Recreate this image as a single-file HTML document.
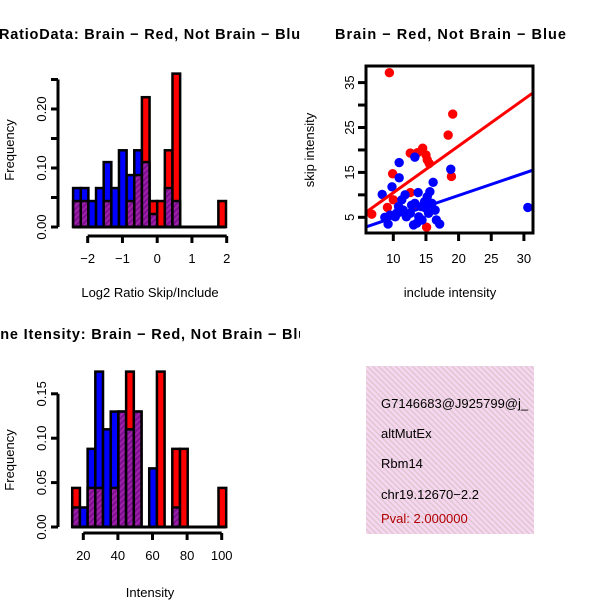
<!DOCTYPE html>
<html><head><meta charset="utf-8"><style>
html,body{margin:0;padding:0;background:#fff;}
svg{display:block;font-family:"Liberation Sans",Arial,sans-serif;}
</style></head><body>
<svg id="c" width="600" height="600" viewBox="0 0 600 600" xmlns="http://www.w3.org/2000/svg">
<defs>
<clipPath id="clipTL"><rect x="0" y="0" width="300" height="300"/></clipPath>
<clipPath id="clipBL"><rect x="0" y="300" width="300" height="300"/></clipPath>
<clipPath id="clipBR"><rect x="366" y="366" width="168" height="168"/></clipPath>
<pattern id="hatchP" width="4" height="4" patternUnits="userSpaceOnUse" patternTransform="rotate(45)">
<rect width="4" height="4" fill="#a020a8"/><rect width="2" height="4" fill="#7a1090"/></pattern>
<pattern id="pinkP" width="4" height="4" patternUnits="userSpaceOnUse" patternTransform="rotate(-45)">
<rect width="4" height="4" fill="#f6d6f0"/><rect width="1.3" height="4" fill="#dcc6cc"/></pattern>
</defs>
<g id="tl" clip-path="url(#clipTL)"></g>
<g id="tr"></g>
<g id="bl" clip-path="url(#clipBL)"></g>
<g id="br">
<rect x="366" y="366" width="168" height="168" fill="url(#pinkP)"/>
<g clip-path="url(#clipBR)" font-size="13">
<text x="381" y="408">G7146683@J925799@j_</text>
<text x="381" y="438">altMutEx</text>
<text x="381" y="468">Rbm14</text>
<text x="381" y="499">chr19.12670−2.2</text>
<text x="381" y="523" fill="#b00000">Pval: 2.000000</text>
</g></g>
</svg>
<script>
// ---- data: ratio histogram ----
const ratioBinStart = -2.42;
const ratioBinWidth = 0.22;
const ratioRed  = [0.044,0.044,0,0,0.044,0,0,0.044,0.088,0.22,0.044,0.044,0.13,0.26,0,0,0,0,0,0.044];
const ratioBlue = [0.066,0.066,0.044,0.066,0.11,0.066,0.13,0.088,0.13,0.11,0.022,0,0.066,0.044,0,0,0,0,0,0];
const ratioXTicks = [-2,-1,0,1,2];
const ratioYTicks = [0,0.05,0.10,0.15,0.20,0.25];
const ratioYLabels = ["0.00","","0.10","","0.20",""];
// ---- data: intensity histogram ----
const intBinStart = 13.6;
const intBinWidth = 4.45;
const intRed  = [0.044,0,0.044,0.044,0,0.044,0.13,0.175,0.13,0,0,0.175,0,0.088,0.088,0,0,0,0,0.044];
const intBlue = [0.022,0.022,0.088,0.175,0.11,0.13,0.13,0.11,0.13,0,0.066,0,0,0.022,0,0,0,0,0,0];
const intXTicks = [20,40,60,80,100];
const intYTicks = [0,0.05,0.10,0.15];
const intYLabels = ["0.00","0.05","0.10","0.15"];
// ---- data: scatter ----
const redX = [9.4,6.7,19.1,18.4,12.6,13.7,14.5,15.0,15.2,15.5,9.9,18.9,12.6,10.0,9.1,13.1,15.1];
const redY = [37.2,5.7,28.0,23.3,19.3,19.4,20.4,18.9,17.8,17.0,14.7,14.1,10.5,8.9,7.2,7.4,2.8];
const blueX = [30.6,10.9,13.3,10.9,16.1,18.8,9.8,8.3,8.7,9.2,10.3,10.8,11.3,11.8,12.0,12.8,13.3,13.6,13.8,14.3,14.8,15.2,15.4,15.9,16.4,16.6,17.1,9.5,10.5,12.6,13.9,14.4,13.1,11.5,15.0,15.6];
const blueY = [7.2,17.2,18.4,13.8,12.8,15.7,11.8,10.1,5.0,3.5,5.1,7.4,8.9,10.0,5.1,7.7,8.1,3.7,10.5,7.4,8.5,9.6,5.9,8.1,6.6,4.4,3.5,5.5,5.9,5.9,5.1,4.4,3.3,6.6,7.0,10.7];
const fitRed = [0.08,1.04];   // intercept, slope
const fitBlue = [-0.03,0.495];
const scXTicks = [10,15,20,25,30];
const scYTicks = [5,10,15,20,25,30,35];
const scYLabels = ["5","","15","","25","","35"];

const NS="http://www.w3.org/2000/svg";
function mk(parent,tag,attrs,text){const e=document.createElementNS(NS,tag);for(const k in attrs)e.setAttribute(k,attrs[k]);if(text!==undefined)e.textContent=text;parent.appendChild(e);return e;}

function histogram(g,o){
  const sx=v=>o.x0+(v-o.v0)*o.kx, sy=v=>o.y0-v*o.ky;
  for(let i=0;i<o.red.length;i++){
    const a=o.binStart+i*o.binW, b=a+o.binW;
    const r=o.red[i], bl=o.blue[i], mx=Math.max(r,bl), mn=Math.min(r,bl);
    const x1=sx(a), w=sx(b)-x1;
    if(mx>0){
      const el=mk(g,'rect',{x:x1,y:sy(mx),width:w,height:sy(0)-sy(mx),fill:r>=bl?'#ff0000':'#0000ff',stroke:'#000','stroke-width':2.5});
      
      
    }
    if(mn>0){
      const el=mk(g,'rect',{x:x1,y:sy(mn),width:w,height:sy(0)-sy(mn),fill:'url(#hatchP)',stroke:'#000','stroke-width':2.5});
      
      
    }
  }
  const bl=mk(g,'line',{x1:sx(o.binStart),x2:sx(o.binStart+o.red.length*o.binW),y1:sy(0),y2:sy(0),stroke:'#000','stroke-width':3});
  
  
  const xa=mk(g,'g',{});
  
  
  mk(xa,'line',{x1:sx(o.xt[0]),x2:sx(o.xt[o.xt.length-1]),y1:o.xAxisY,y2:o.xAxisY,stroke:'#000','stroke-width':3});
  o.xt.forEach(t=>{mk(xa,'line',{x1:sx(t),x2:sx(t),y1:o.xAxisY,y2:o.xAxisY+7,stroke:'#000','stroke-width':3});
    const tx=mk(xa,'text',{x:sx(t),y:o.xAxisY+27,'text-anchor':'middle','font-size':13},String(t).replace('-','−'));
    
    });
  const ya=mk(g,'g',{});
  
  
  mk(ya,'line',{x1:o.yAxisX,x2:o.yAxisX,y1:sy(o.yt[0]),y2:sy(o.yt[o.yt.length-1]),stroke:'#000','stroke-width':3});
  o.yt.forEach((t,i)=>{mk(ya,'line',{x1:o.yAxisX,x2:o.yAxisX-7,y1:sy(t),y2:sy(t),stroke:'#000','stroke-width':3});
    if(o.yl[i]){const tx=mk(ya,'text',{x:0,y:0,transform:`translate(${o.yAxisX-12},${sy(t)}) rotate(-90)`,'text-anchor':'middle','font-size':13},o.yl[i]);
    
    }});
  const yt=mk(g,'text',{x:0,y:0,transform:`translate(14,${o.freqY}) rotate(-90)`,'text-anchor':'middle','font-size':13},'Frequency');
  
  
  const xt=mk(g,'text',{x:150,y:o.xTitleY,'text-anchor':'middle','font-size':13},o.xTitle);
  
  
  const ti=mk(g,'text',{x:o.titleX,y:o.titleY,'text-anchor':'middle','font-size':14.5,'font-weight':'bold','letter-spacing':0.8},o.title);
  
  
}

histogram(document.getElementById('tl'),{id:'ratio',red:ratioRed,blue:ratioBlue,binStart:ratioBinStart,binW:ratioBinWidth,
  x0:157.2,v0:0,kx:34.75,y0:227,ky:590,xt:ratioXTicks,yt:ratioYTicks,yl:ratioYLabels,xAxisY:236,yAxisX:58,
  freqY:150,xTitle:'Log2 Ratio Skip/Include',xTitleY:297,title:'Log2 RatioData: Brain − Red, Not Brain − Blue',titleX:133,titleY:39});
histogram(document.getElementById('bl'),{id:'intensity',red:intRed,blue:intBlue,binStart:intBinStart,binW:intBinWidth,
  x0:83.3,v0:20,kx:1.73,y0:527,ky:888,xt:intXTicks,yt:intYTicks,yl:intYLabels,xAxisY:533,yAxisX:58,
  freqY:460,xTitle:'Intensity',xTitleY:597,title:'Gene Itensity: Brain − Red, Not Brain − Blue',titleX:148,titleY:339});

(function(){
  const g=document.getElementById('tr');
  const sx=v=>393.3+(v-10)*6.53, sy=v=>217.3-(v-5)*4.49;
  const L=366,R=533,T=66,B=233;
  const cp=mk(g,'clipPath',{id:'clipSc'});mk(cp,'rect',{x:L,y:T,width:R-L,height:B-T});
  const pts=mk(g,'g',{'clip-path':'url(#clipSc)'});
  redX.forEach((x,i)=>{const c=mk(pts,'circle',{cx:sx(x),cy:sy(redY[i]),r:4.7,fill:'#ff0000'});
    
    });
  blueX.forEach((x,i)=>{const c=mk(pts,'circle',{cx:sx(x),cy:sy(blueY[i]),r:4.7,fill:'#0000ff'});
    
    });
  const xl=5.5,xr=32;
  const lr=mk(pts,'line',{x1:sx(xl),y1:sy(fitRed[0]+fitRed[1]*xl),x2:sx(xr),y2:sy(fitRed[0]+fitRed[1]*xr),stroke:'#ff0000','stroke-width':3});
  
  
  const lb=mk(pts,'line',{x1:sx(xl),y1:sy(fitBlue[0]+fitBlue[1]*xl),x2:sx(xr),y2:sy(fitBlue[0]+fitBlue[1]*xr),stroke:'#0000ff','stroke-width':3});
  
  
  const box=mk(g,'rect',{x:L,y:T,width:R-L,height:B-T,fill:'none',stroke:'#000','stroke-width':3});
  
  
  scXTicks.forEach(t=>{mk(g,'line',{x1:sx(t),x2:sx(t),y1:B,y2:B+8,stroke:'#000','stroke-width':3});
    const tx=mk(g,'text',{x:sx(t),y:263,'text-anchor':'middle','font-size':13},String(t));
    
    });
  scYTicks.forEach((t,i)=>{mk(g,'line',{x1:L,x2:L-8,y1:sy(t),y2:sy(t),stroke:'#000','stroke-width':3});
    if(scYLabels[i]){const tx=mk(g,'text',{x:0,y:0,transform:`translate(354,${sy(t)}) rotate(-90)`,'text-anchor':'middle','font-size':13},scYLabels[i]);
    
    }});
  const xt=mk(g,'text',{x:450,y:297,'text-anchor':'middle','font-size':13},'include intensity');
  
  
  const yt=mk(g,'text',{x:0,y:0,transform:'translate(314,150) rotate(-90)','text-anchor':'middle','font-size':13},'skip intensity');
  
  
  const ti=mk(g,'text',{x:335,y:39,'font-size':14.5,'font-weight':'bold',textLength:231,lengthAdjust:'spacing'},'Brain − Red, Not Brain − Blue');
  
  
})();
</script>
</body></html>
